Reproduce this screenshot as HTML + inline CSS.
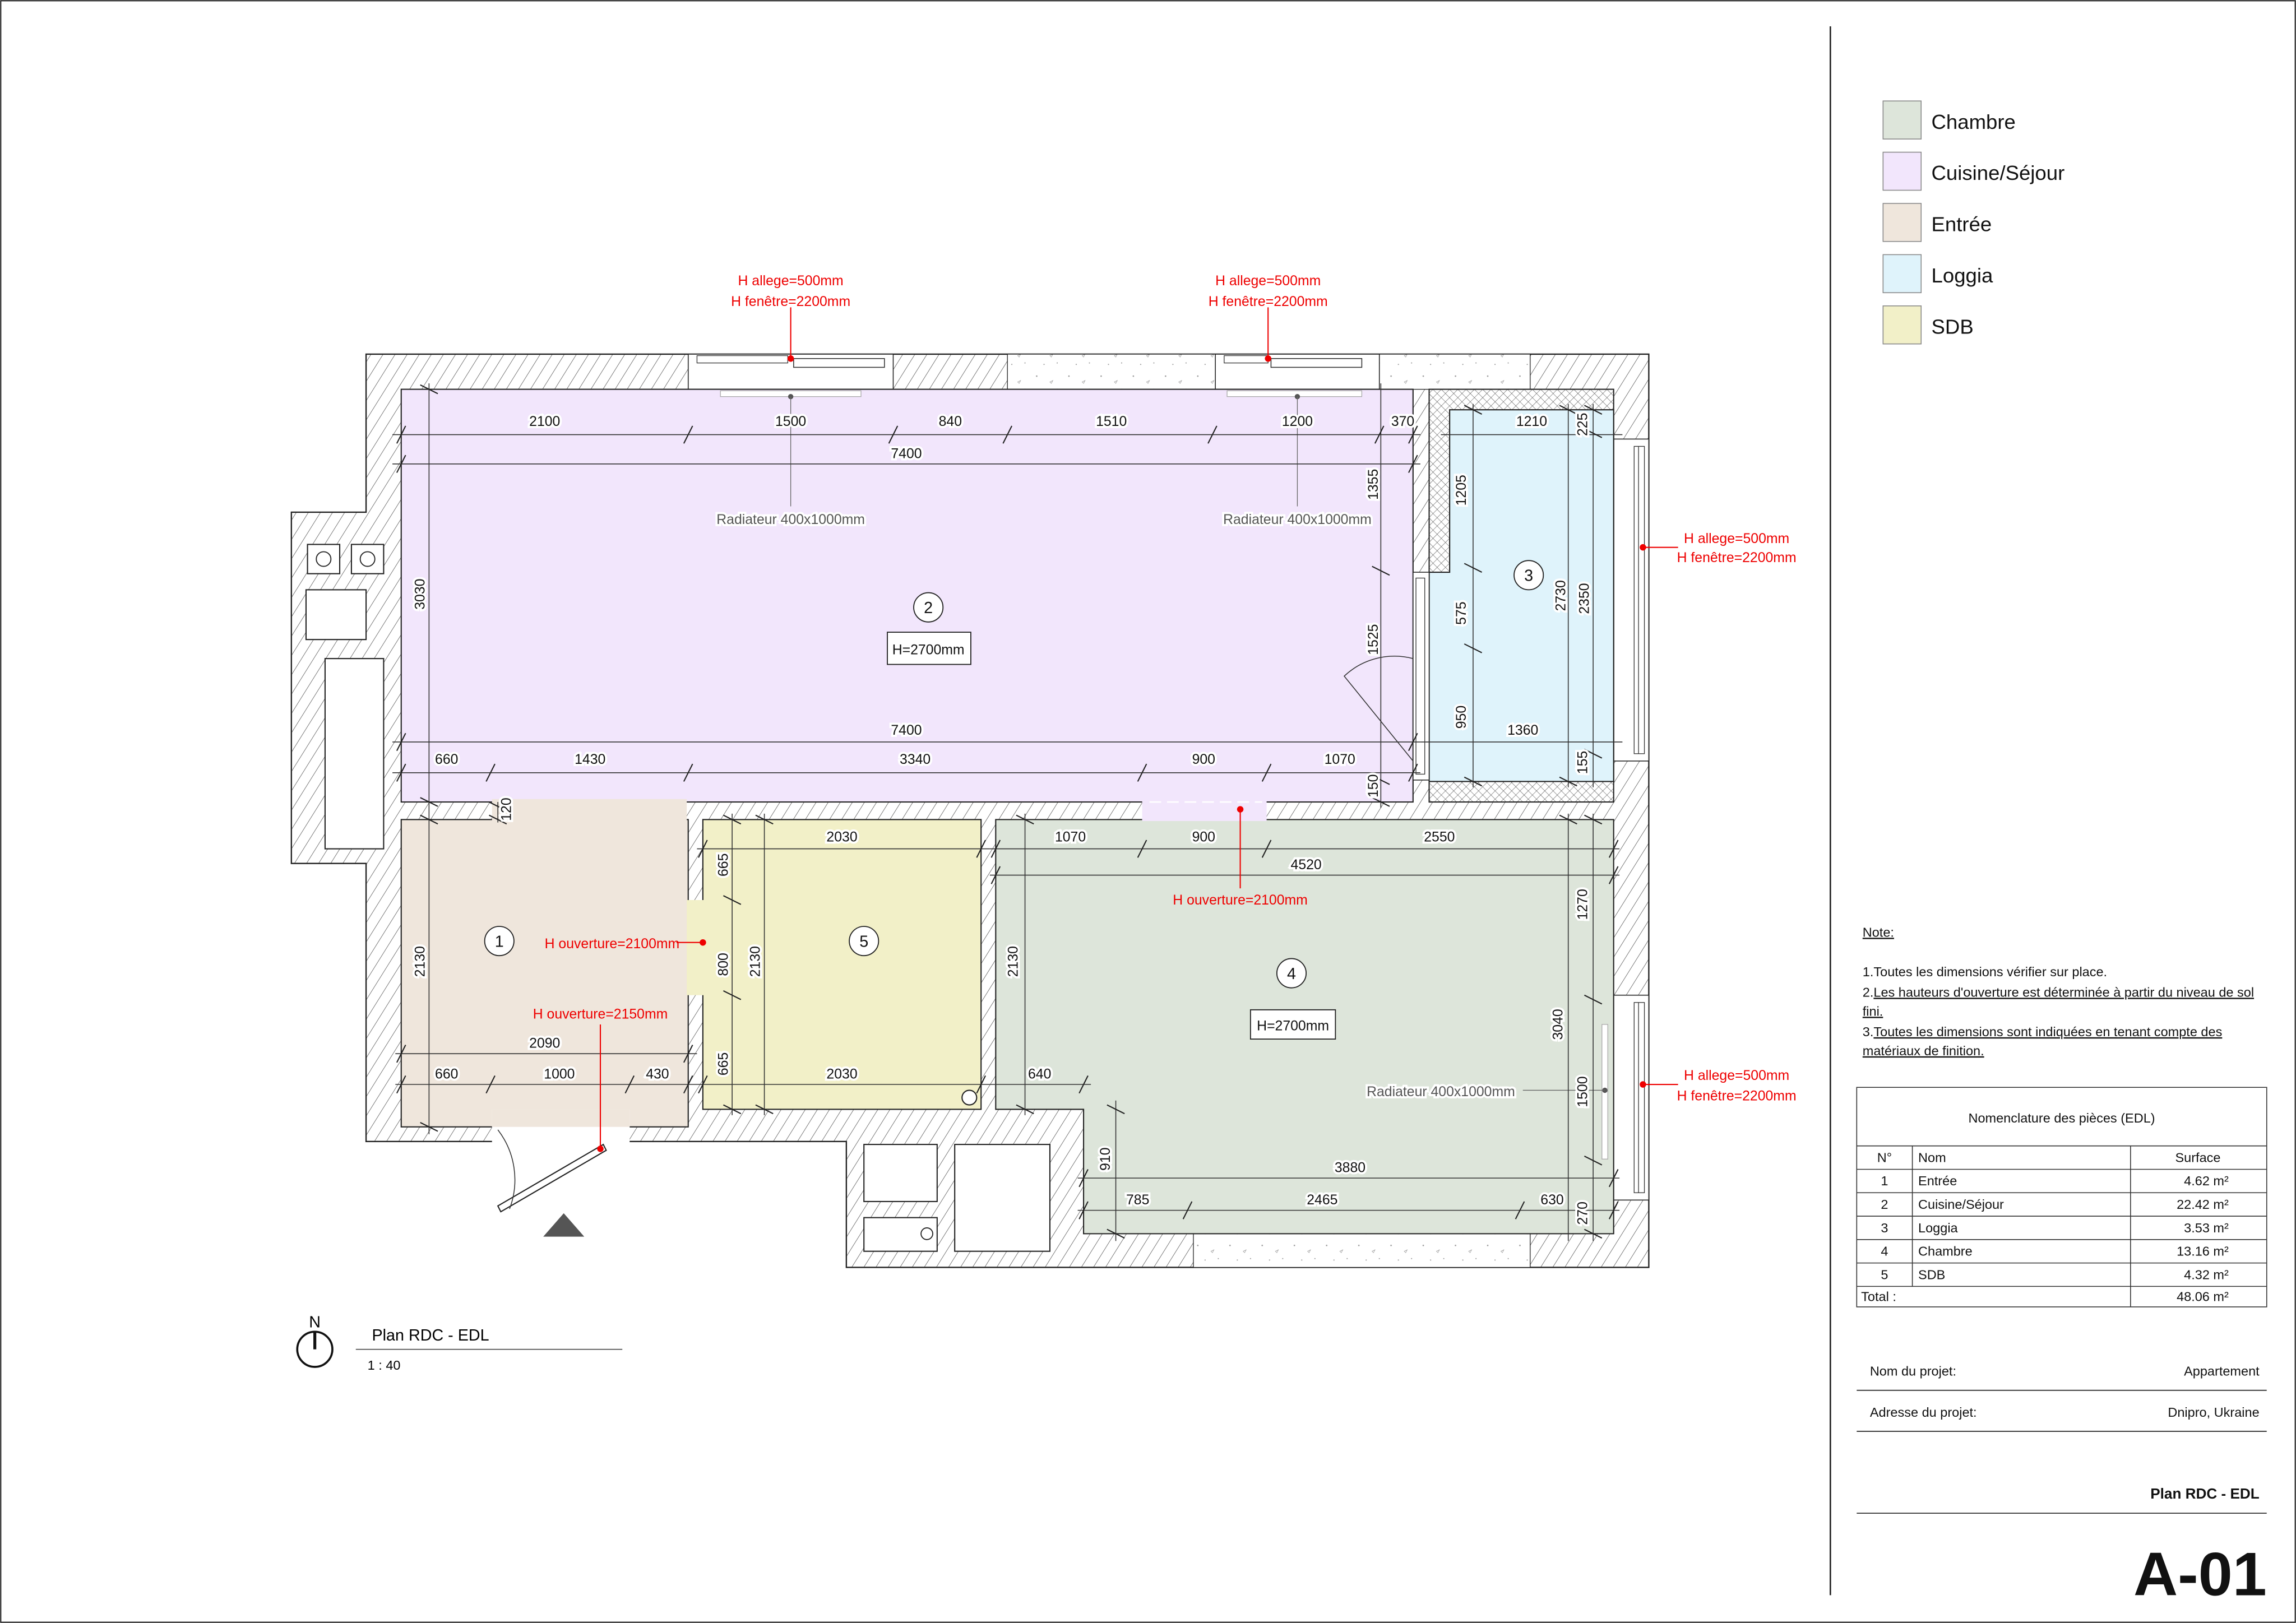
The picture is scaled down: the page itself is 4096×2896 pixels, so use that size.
<!DOCTYPE html>
<html><head><meta charset="utf-8"><style>
html,body{margin:0;padding:0;background:#fff}
svg{display:block}
text{font-family:"Liberation Sans",sans-serif}
</style></head><body>
<svg width="4096" height="2896" viewBox="0 0 1568 1109" preserveAspectRatio="none" xmlns="http://www.w3.org/2000/svg">
<defs>
<pattern id="h" patternUnits="userSpaceOnUse" width="7" height="7" patternTransform="rotate(32)">
<rect width="7" height="7" fill="#fff"/><line x1="0" y1="0" x2="0" y2="7" stroke="#555" stroke-width="0.6"/></pattern>
<pattern id="x" patternUnits="userSpaceOnUse" width="4" height="4" patternTransform="rotate(45)">
<rect width="4" height="4" fill="#fff"/><line x1="0" y1="0" x2="0" y2="4" stroke="#555" stroke-width="0.45"/><line x1="0" y1="0" x2="4" y2="0" stroke="#555" stroke-width="0.45"/></pattern>
<pattern id="c" patternUnits="userSpaceOnUse" width="22" height="18">
<rect width="22" height="18" fill="#fff"/><circle cx="4" cy="5" r="0.5" fill="#999"/><path d="M13 9 l2 -1 l-1 2z" fill="none" stroke="#999" stroke-width="0.3"/><circle cx="18" cy="14" r="0.4" fill="#999"/><circle cx="9" cy="15" r="0.4" fill="#999"/></pattern>
</defs>
<rect x="0.5" y="0.5" width="1567" height="1108" fill="none" stroke="#222" stroke-width="0.8"/>
<line x1="1250" y1="18" x2="1250" y2="1090" stroke="#222" stroke-width="1"/>

<polygon points="250,242 1126,242 1126,866 578,866 578,780 250,780 250,590 199,590 199,350 250,350" fill="url(#h)" stroke="#222" stroke-width="0.9"/>
<rect x="688" y="242" width="142" height="24" fill="url(#c)" stroke="#222" stroke-width="0.5"/>
<rect x="942" y="242" width="103" height="24" fill="url(#c)" stroke="#222" stroke-width="0.5"/>
<rect x="815" y="843" width="230" height="23" fill="url(#c)" stroke="#222" stroke-width="0.5"/>
<rect x="470" y="242" width="140" height="24" fill="#fff" stroke="#222" stroke-width="0.6"/>
<rect x="476" y="243" width="62" height="5" fill="none" stroke="#333" stroke-width="0.5"/>
<rect x="542" y="245" width="62" height="6" fill="none" stroke="#333" stroke-width="0.6"/>
<rect x="830" y="242" width="112" height="24" fill="#fff" stroke="#222" stroke-width="0.6"/>
<rect x="836" y="243" width="30" height="5" fill="none" stroke="#333" stroke-width="0.5"/>
<rect x="868" y="245" width="62" height="6" fill="none" stroke="#333" stroke-width="0.6"/>
<rect x="1102" y="300" width="24" height="220" fill="#fff" stroke="#222" stroke-width="0.6"/>
<rect x="1116" y="305" width="7" height="210" fill="none" stroke="#333" stroke-width="0.5"/>
<line x1="1119" y1="305" x2="1119" y2="515" stroke="#333" stroke-width="0.5"/>
<rect x="1102" y="680" width="24" height="140" fill="#fff" stroke="#222" stroke-width="0.6"/>
<rect x="1116" y="685" width="7" height="130" fill="none" stroke="#333" stroke-width="0.5"/>
<line x1="1119" y1="685" x2="1119" y2="815" stroke="#333" stroke-width="0.5"/>
<rect x="210" y="372" width="22" height="20" fill="#fff" stroke="#222" stroke-width="0.8"/><circle cx="221" cy="382" r="5" fill="none" stroke="#222" stroke-width="0.7"/>
<rect x="240" y="372" width="22" height="20" fill="#fff" stroke="#222" stroke-width="0.8"/><circle cx="251" cy="382" r="5" fill="none" stroke="#222" stroke-width="0.7"/>
<rect x="209" y="403" width="41" height="34" fill="#fff" stroke="#222" stroke-width="0.8"/>
<rect x="222" y="450" width="40" height="130" fill="#fff" stroke="#222" stroke-width="0.8"/>
<rect x="590" y="782" width="50" height="39" fill="#fff" stroke="#222" stroke-width="0.8"/>
<rect x="652" y="782" width="65" height="73" fill="#fff" stroke="#222" stroke-width="0.8"/>
<rect x="590" y="832" width="50" height="23" fill="#fff" stroke="#222" stroke-width="0.8"/><circle cx="633" cy="843" r="4" fill="none" stroke="#222" stroke-width="0.7"/>

<rect x="274" y="266" width="691" height="282" fill="#f2e6fc" stroke="#222" stroke-width="0.8"/>
<rect x="274" y="560" width="196" height="210" fill="#efe6dc" stroke="#222" stroke-width="0.8"/>
<rect x="336" y="546" width="133" height="16" fill="#efe6dc"/>
<rect x="336" y="758" width="94" height="23" fill="#fff"/>
<rect x="336" y="758" width="94" height="12" fill="#efe6dc"/>
<rect x="480" y="560" width="190" height="198" fill="#f2f0c8" stroke="#222" stroke-width="0.8"/>
<rect x="469" y="615" width="12" height="65" fill="#f2f0c8"/>
<circle cx="662" cy="750" r="5" fill="#fff" stroke="#222" stroke-width="0.8"/>
<path d="M680 560 H1102 V843 H740 V758 H680 Z" fill="#dde5da" stroke="#222" stroke-width="0.8"/>
<rect x="780" y="547" width="85" height="14" fill="#f2e6fc"/>
<line x1="785" y1="548" x2="862" y2="548" stroke="#fff" stroke-width="1" stroke-dasharray="8,4"/>
<rect x="976" y="266" width="126" height="282" fill="url(#x)" stroke="#222" stroke-width="0.8"/>
<path d="M990 280 H1102 V534 H976 V391 H990 Z" fill="#dff3fb" stroke="#222" stroke-width="0.8"/>
<rect x="965" y="391" width="11" height="142" fill="#fff" stroke="#222" stroke-width="0.6"/>
<rect x="967" y="395" width="6" height="134" fill="none" stroke="#333" stroke-width="0.5"/>
<path d="M965 450 A 50 50 0 0 0 918 462 L965 520" fill="none" stroke="#333" stroke-width="0.6"/>
<rect x="492" y="267" width="96" height="4" fill="#fff" stroke="#aaa" stroke-width="0.5"/>
<rect x="838" y="267" width="92" height="4" fill="#fff" stroke="#aaa" stroke-width="0.5"/>
<rect x="1094" y="700" width="4" height="92" fill="#fff" stroke="#aaa" stroke-width="0.5"/>
<circle cx="540" cy="271" r="1.8" fill="#555"/><circle cx="886" cy="271" r="1.8" fill="#555"/><circle cx="1096" cy="745" r="1.8" fill="#555"/>
<g stroke="#666" stroke-width="0.5"><line x1="540" y1="271" x2="540" y2="346"/><line x1="886" y1="271" x2="886" y2="346"/><line x1="1040" y1="745" x2="1096" y2="745"/></g>
<path d="M340 824 L412 782 L414 786 L342 828 Z" fill="#fff" stroke="#222" stroke-width="0.8"/>
<path d="M340 772 A 56 56 0 0 1 348 826" fill="none" stroke="#333" stroke-width="0.6"/>
<polygon points="385,829 371,845 399,845" fill="#555"/>

<g stroke="#333" stroke-width="0.6" fill="none">
<line x1="268" y1="297" x2="970" y2="297"/><line x1="268" y1="317" x2="970" y2="317"/>
<line x1="268" y1="507" x2="970" y2="507"/><line x1="268" y1="528" x2="970" y2="528"/>
<line x1="293" y1="262" x2="293" y2="775"/>
<line x1="943" y1="262" x2="943" y2="552"/>
<line x1="984" y1="297" x2="1108" y2="297"/><line x1="970" y1="507" x2="1108" y2="507"/>
<line x1="1006" y1="276" x2="1006" y2="538"/><line x1="1071" y1="276" x2="1071" y2="538"/><line x1="1088" y1="276" x2="1088" y2="538"/>
<line x1="270" y1="720" x2="476" y2="720"/><line x1="270" y1="741" x2="476" y2="741"/>
<line x1="476" y1="580" x2="676" y2="580"/><line x1="476" y1="741" x2="676" y2="741"/>
<line x1="500" y1="556" x2="500" y2="762"/><line x1="522" y1="556" x2="522" y2="762"/>
<line x1="676" y1="580" x2="1106" y2="580"/><line x1="676" y1="598" x2="1106" y2="598"/>
<line x1="700" y1="556" x2="700" y2="762"/><line x1="676" y1="741" x2="745" y2="741"/>
<line x1="1071" y1="556" x2="1071" y2="848"/><line x1="1088" y1="556" x2="1088" y2="848"/>
<line x1="762" y1="752" x2="762" y2="848"/><line x1="736" y1="805" x2="1106" y2="805"/><line x1="736" y1="827" x2="1106" y2="827"/>
<line x1="340" y1="548" x2="340" y2="562"/>
</g>
<g stroke="#222" stroke-width="0.8">
<path d="M271 303 l6 -12 M467 303 l6 -12 M607 303 l6 -12 M685 303 l6 -12 M825 303 l6 -12 M939 303 l6 -12 M962 303 l6 -12 M271 323 l6 -12 M962 323 l6 -12 M271 513 l6 -12 M962 513 l6 -12 M271 534 l6 -12 M332 534 l6 -12 M467 534 l6 -12 M777 534 l6 -12 M862 534 l6 -12 M962 534 l6 -12"/>
<path d="M287 263 l12 6 M287 545 l12 6 M287 557 l12 6 M287 767 l12 6 M937 387 l12 6 M937 530 l12 6 M937 545 l12 6 M1000 277 l12 6 M1000 385 l12 6 M1000 440 l12 6 M1000 531 l12 6 M1065 277 l12 6 M1082 277 l12 6 M1082 293 l12 6 M1082 512 l12 6 M1065 531 l12 6"/>
<path d="M271 726 l6 -12 M467 726 l6 -12 M271 747 l6 -12 M332 747 l6 -12 M427 747 l6 -12 M467 747 l6 -12 M477 586 l6 -12 M667 586 l6 -12 M477 747 l6 -12 M667 747 l6 -12 M677 586 l6 -12 M777 586 l6 -12 M862 586 l6 -12 M1099 586 l6 -12 M677 604 l6 -12 M1099 604 l6 -12 M737 747 l6 -12 M737 811 l6 -12 M1099 811 l6 -12 M737 833 l6 -12 M808 833 l6 -12 M1035 833 l6 -12 M1099 833 l6 -12"/>
<path d="M494 557 l12 6 M494 612 l12 6 M494 677 l12 6 M494 755 l12 6 M516 557 l12 6 M516 755 l12 6 M694 557 l12 6 M694 755 l12 6 M1065 557 l12 6 M1082 557 l12 6 M1082 680 l12 6 M1082 790 l12 6 M1082 840 l12 6 M756 755 l12 6 M756 840 l12 6 M334 548 l12 6 M334 557 l12 6"/>
</g>
<g font-size="9.5" text-anchor="middle" fill="#111">
<g stroke="#fff" stroke-width="3" paint-order="stroke">
<text x="372" y="291">2100</text><text x="540" y="291">1500</text><text x="649" y="291">840</text><text x="759" y="291">1510</text><text x="886" y="291">1200</text><text x="958" y="291">370</text>
<text x="619" y="313">7400</text><text x="619" y="502">7400</text>
<text x="305" y="522">660</text><text x="403" y="522">1430</text><text x="625" y="522">3340</text><text x="822" y="522">900</text><text x="915" y="522">1070</text>
<text x="1046" y="291">1210</text><text x="1040" y="502">1360</text>
<text x="372" y="716">2090</text><text x="305" y="737">660</text><text x="382" y="737">1000</text><text x="449" y="737">430</text>
<text x="575" y="575">2030</text><text x="575" y="737">2030</text>
<text x="731" y="575">1070</text><text x="822" y="575">900</text><text x="983" y="575">2550</text><text x="892" y="594">4520</text><text x="710" y="737">640</text>
<text x="922" y="801">3880</text><text x="777" y="823">785</text><text x="903" y="823">2465</text><text x="1060" y="823">630</text>
<g transform="rotate(-90)">
<text x="-406" y="290">3030</text><text x="-657" y="290">2130</text><text x="-553" y="349">120</text>
<text x="-331" y="941">1355</text><text x="-437" y="941">1525</text><text x="-537" y="941">150</text>
<text x="-335" y="1001">1205</text><text x="-419" y="1001">575</text><text x="-490" y="1001">950</text>
<text x="-407" y="1069">2730</text><text x="-409" y="1085">2350</text><text x="-290" y="1084">225</text><text x="-521" y="1084">155</text>
<text x="-591" y="497">665</text><text x="-659" y="497">800</text><text x="-727" y="497">665</text><text x="-657" y="519">2130</text>
<text x="-657" y="695">2130</text><text x="-618" y="1084">1270</text><text x="-700" y="1067">3040</text><text x="-746" y="1084">1500</text><text x="-829" y="1084">270</text><text x="-792" y="758">910</text>
</g>
</g>
<g fill="#555" font-size="9.5" stroke="#fff" stroke-width="3" paint-order="stroke">
<text x="540" y="358">Radiateur 400x1000mm</text><text x="886" y="358">Radiateur 400x1000mm</text><text x="984" y="749">Radiateur 400x1000mm</text>
</g>
</g>
<g fill="#fff" stroke="#222" stroke-width="0.7">
<circle cx="341" cy="643" r="10"/><circle cx="634" cy="415" r="10"/><circle cx="1044" cy="393" r="10"/><circle cx="882" cy="665" r="10"/><circle cx="590" cy="643" r="10"/>
<rect x="606" y="432" width="57" height="22"/><rect x="854" y="690" width="58" height="20"/>
</g>
<g font-size="11" text-anchor="middle" fill="#111">
<text x="341" y="647">1</text><text x="634" y="419">2</text><text x="1044" y="397">3</text><text x="882" y="669">4</text><text x="590" y="647">5</text>
<text x="634" y="447" font-size="9.5">H=2700mm</text><text x="883" y="704" font-size="9.5">H=2700mm</text>
</g>
<g stroke="#e00" stroke-width="0.8">
<line x1="540" y1="210" x2="540" y2="245"/><line x1="866" y1="210" x2="866" y2="245"/>
<line x1="1122" y1="374" x2="1146" y2="374"/><line x1="1122" y1="741" x2="1146" y2="741"/>
<line x1="462" y1="644" x2="480" y2="644"/><line x1="410" y1="700" x2="410" y2="785"/><line x1="847" y1="553" x2="847" y2="607"/>
</g>
<g fill="#e00"><circle cx="540" cy="245" r="2.2"/><circle cx="866" cy="245" r="2.2"/><circle cx="1122" cy="374" r="2.2"/><circle cx="1122" cy="741" r="2.2"/><circle cx="480" cy="644" r="2.2"/><circle cx="410" cy="785" r="2.2"/><circle cx="847" cy="553" r="2.2"/></g>
<g fill="#e00" font-size="9.5" text-anchor="middle">
<text x="540" y="195">H allege=500mm</text><text x="540" y="209">H fenêtre=2200mm</text>
<text x="866" y="195">H allege=500mm</text><text x="866" y="209">H fenêtre=2200mm</text>
<text x="1186" y="371">H allege=500mm</text><text x="1186" y="384">H fenêtre=2200mm</text>
<text x="1186" y="738">H allege=500mm</text><text x="1186" y="752">H fenêtre=2200mm</text>
<text x="418" y="648">H ouverture=2100mm</text><text x="410" y="696">H ouverture=2150mm</text><text x="847" y="618">H ouverture=2100mm</text>
</g>
<circle cx="215" cy="922" r="12" fill="none" stroke="#111" stroke-width="1.4"/>
<line x1="215" y1="910" x2="215" y2="922" stroke="#111" stroke-width="2"/>
<text x="215" y="907" font-size="11" text-anchor="middle">N</text>
<text x="254" y="916" font-size="11">Plan RDC - EDL</text>
<line x1="243" y1="922" x2="425" y2="922" stroke="#444" stroke-width="0.6"/>
<text x="251" y="936" font-size="9">1 : 40</text>
<g stroke="#888" stroke-width="0.6">
<rect x="1286" y="69" width="26" height="26" fill="#dde5da"/><rect x="1286" y="104" width="26" height="26" fill="#f2e6fc"/><rect x="1286" y="139" width="26" height="26" fill="#efe6dc"/><rect x="1286" y="174" width="26" height="26" fill="#dff3fb"/><rect x="1286" y="209" width="26" height="26" fill="#f2f0c8"/>
</g>
<g font-size="14" fill="#111"><text x="1319" y="88">Chambre</text><text x="1319" y="123">Cuisine/Séjour</text><text x="1319" y="158">Entrée</text><text x="1319" y="193">Loggia</text><text x="1319" y="228">SDB</text></g>
<g font-size="9" fill="#111">
<text x="1272" y="640" text-decoration="underline">Note:</text>
<text x="1272" y="667">1.Toutes les dimensions vérifier sur place.</text>
<text x="1272" y="681">2.<tspan text-decoration="underline">Les hauteurs d'ouverture est déterminée à partir du niveau de sol</tspan></text>
<text x="1272" y="694" text-decoration="underline">fini.</text>
<text x="1272" y="708">3.<tspan text-decoration="underline">Toutes les dimensions sont indiquées en tenant compte des</tspan></text>
<text x="1272" y="721" text-decoration="underline">matériaux de finition.</text>
</g>
<g stroke="#333" stroke-width="0.6" fill="none">
<rect x="1268" y="743" width="280" height="150"/>
<line x1="1268" y1="783" x2="1548" y2="783"/>
<line x1="1268" y1="799" x2="1548" y2="799"/><line x1="1268" y1="815" x2="1548" y2="815"/><line x1="1268" y1="831" x2="1548" y2="831"/><line x1="1268" y1="847" x2="1548" y2="847"/><line x1="1268" y1="863" x2="1548" y2="863"/><line x1="1268" y1="879" x2="1548" y2="879"/>
<line x1="1306" y1="783" x2="1306" y2="879"/><line x1="1455" y1="783" x2="1455" y2="893"/>
</g>
<g font-size="9" fill="#111">
<text x="1408" y="767" text-anchor="middle">Nomenclature des pièces (EDL)</text>
<text x="1287" y="794" text-anchor="middle">N°</text><text x="1310" y="794">Nom</text><text x="1501" y="794" text-anchor="middle">Surface</text>
<g text-anchor="middle"><text x="1287" y="810">1</text><text x="1287" y="826">2</text><text x="1287" y="842">3</text><text x="1287" y="858">4</text><text x="1287" y="874">5</text></g>
<text x="1310" y="810">Entrée</text><text x="1310" y="826">Cuisine/Séjour</text><text x="1310" y="842">Loggia</text><text x="1310" y="858">Chambre</text><text x="1310" y="874">SDB</text>
<g text-anchor="end"><text x="1522" y="810">4.62 m²</text><text x="1522" y="826">22.42 m²</text><text x="1522" y="842">3.53 m²</text><text x="1522" y="858">13.16 m²</text><text x="1522" y="874">4.32 m²</text><text x="1522" y="889">48.06 m²</text></g>
<text x="1271" y="889">Total :</text>
<text x="1277" y="940">Nom du projet:</text><text x="1543" y="940" text-anchor="end">Appartement</text>
<text x="1277" y="968">Adresse du projet:</text><text x="1543" y="968" text-anchor="end">Dnipro, Ukraine</text>
<text x="1543" y="1024" text-anchor="end" font-weight="bold" font-size="10">Plan RDC - EDL</text>
</g>
<g stroke="#333" stroke-width="0.7"><line x1="1268" y1="950" x2="1548" y2="950"/><line x1="1268" y1="978" x2="1548" y2="978"/><line x1="1268" y1="1034" x2="1548" y2="1034"/></g>
<text x="1548" y="1090" font-size="42" font-weight="bold" text-anchor="end" fill="#111">A-01</text>
</svg>
</body></html>
